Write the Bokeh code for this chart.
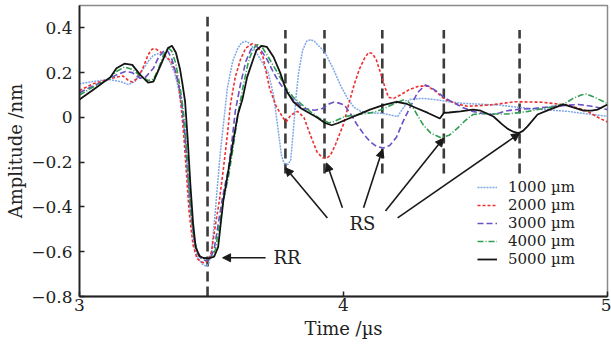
from bokeh.plotting import figure
from bokeh.models import (Range1d, FixedTicker, Legend, LegendItem, Arrow, NormalHead,
                          Label, ColumnDataSource)
from bokeh.embed import file_html
from bokeh.resources import INLINE

# ---------------- data ----------------
t_1000 = [3.00, 3.05, 3.11, 3.155, 3.185, 3.21, 3.235, 3.26, 3.28, 3.30, 3.32, 3.34, 3.36, 3.375,
          3.39, 3.40, 3.41, 3.42, 3.435, 3.45, 3.465, 3.48, 3.49, 3.50, 3.51, 3.52, 3.534, 3.548,
          3.56, 3.58, 3.60, 3.615, 3.631, 3.645, 3.67, 3.69, 3.715, 3.735, 3.753, 3.765, 3.775,
          3.79, 3.80, 3.81, 3.82, 3.83, 3.845, 3.86, 3.875, 3.89, 3.91, 3.93, 3.96, 3.99, 4.015,
          4.04, 4.065, 4.10, 4.148, 4.18, 4.205, 4.225, 4.25, 4.30, 4.345, 4.40, 4.45, 4.50,
          4.59, 4.70, 4.85, 4.95, 5.00]
a_1000 = [0.150, 0.160, 0.170, 0.160, 0.147, 0.160, 0.205, 0.250, 0.278, 0.285, 0.278, 0.255, 0.200,
          0.130, 0.020, -0.100, -0.260, -0.420, -0.570, -0.630, -0.655, -0.665, -0.650, -0.600,
          -0.480, -0.340, -0.150, 0.000, 0.130, 0.250, 0.310, 0.335, 0.340, 0.330, 0.290, 0.250,
          0.200, 0.100, -0.060, -0.170, -0.205, -0.210, -0.190, -0.060, 0.090, 0.200, 0.300,
          0.340, 0.347, 0.340, 0.315, 0.290, 0.220, 0.140, 0.085, 0.045, 0.027, 0.020, 0.018,
          0.010, 0.004, 0.040, 0.080, 0.085, 0.080, 0.070, 0.063, 0.060, 0.055, 0.040, 0.027,
          0.012, 0.005]

t_2000 = [3.00, 3.05, 3.11, 3.14, 3.165, 3.185, 3.20, 3.22, 3.24, 3.26, 3.275, 3.29, 3.31, 3.33,
          3.35, 3.365, 3.375, 3.385, 3.395, 3.405, 3.415, 3.43, 3.445, 3.46, 3.475, 3.49, 3.50,
          3.515, 3.53, 3.545, 3.56, 3.572, 3.59, 3.61, 3.63, 3.655, 3.675, 3.695, 3.72, 3.745,
          3.77, 3.783, 3.80, 3.826, 3.85, 3.875, 3.90, 3.92, 3.935, 3.95, 3.97, 4.00, 4.02, 4.04,
          4.06, 4.08, 4.095, 4.11, 4.125, 4.14, 4.15, 4.17, 4.19, 4.215, 4.25, 4.285, 4.32, 4.35,
          4.385, 4.43, 4.47, 4.55, 4.65, 4.75, 4.85, 4.92, 4.97, 5.00]
a_2000 = [0.120, 0.150, 0.170, 0.180, 0.185, 0.165, 0.158, 0.175, 0.220, 0.280, 0.305, 0.305,
          0.290, 0.270, 0.245, 0.200, 0.150, 0.050, -0.080, -0.250, -0.420, -0.570, -0.630,
          -0.645, -0.650, -0.635, -0.600, -0.480, -0.370, -0.230, -0.080, 0.060, 0.180, 0.260,
          0.310, 0.330, 0.320, 0.270, 0.130, 0.050, 0.000, -0.020, 0.010, 0.027, 0.000, -0.080,
          -0.155, -0.180, -0.182, -0.170, -0.120, -0.030, 0.060, 0.145, 0.215, 0.265, 0.290,
          0.285, 0.255, 0.200, 0.160, 0.090, 0.085, 0.100, 0.125, 0.140, 0.140, 0.115, 0.080,
          0.060, 0.050, 0.055, 0.070, 0.068, 0.055, 0.030, -0.004, -0.020]

t_3000 = [3.00, 3.05, 3.11, 3.14, 3.174, 3.20, 3.23, 3.25, 3.28, 3.30, 3.32, 3.335, 3.35, 3.365,
          3.38, 3.39, 3.40, 3.41, 3.42, 3.435, 3.45, 3.465, 3.48, 3.495, 3.51, 3.525, 3.54, 3.555,
          3.564, 3.58, 3.59, 3.61, 3.63, 3.65, 3.667, 3.685, 3.71, 3.735, 3.76, 3.783, 3.81, 3.85,
          3.89, 3.92, 3.945, 3.962, 3.98, 4.004, 4.03, 4.05, 4.08, 4.10, 4.125, 4.152, 4.175,
          4.20, 4.225, 4.25, 4.28, 4.31, 4.33, 4.355, 4.38, 4.41, 4.45, 4.49, 4.525, 4.56, 4.59,
          4.62, 4.67, 4.72, 4.80, 4.89, 4.94, 5.00]
a_3000 = [0.110, 0.140, 0.170, 0.190, 0.205, 0.200, 0.175, 0.180, 0.220, 0.270, 0.298, 0.295,
          0.260, 0.200, 0.120, 0.040, -0.080, -0.250, -0.400, -0.550, -0.615, -0.635, -0.640,
          -0.630, -0.590, -0.480, -0.370, -0.280, -0.230, -0.080, 0.027, 0.150, 0.250, 0.305,
          0.320, 0.305, 0.260, 0.200, 0.150, 0.115, 0.080, 0.040, 0.032, 0.040, 0.060, 0.068,
          0.065, 0.055, 0.010, -0.030, -0.080, -0.107, -0.130, -0.137, -0.125, -0.090, -0.020,
          0.040, 0.110, 0.145, 0.135, 0.115, 0.090, 0.070, 0.045, 0.027, 0.018, 0.013, 0.020,
          0.030, 0.037, 0.040, 0.050, 0.058, 0.050, 0.035]

t_4000 = [3.00, 3.05, 3.11, 3.14, 3.17, 3.20, 3.23, 3.26, 3.28, 3.30, 3.32, 3.337, 3.35, 3.365,
          3.38, 3.39, 3.40, 3.41, 3.42, 3.43, 3.445, 3.46, 3.48, 3.50, 3.515, 3.53, 3.545, 3.565,
          3.58, 3.60, 3.62, 3.64, 3.657, 3.674, 3.69, 3.715, 3.75, 3.783, 3.81, 3.84, 3.87, 3.91,
          3.945, 3.97, 4.004, 4.05, 4.09, 4.12, 4.155, 4.19, 4.23, 4.25, 4.265, 4.285, 4.30, 4.33,
          4.367, 4.40, 4.43, 4.46, 4.49, 4.53, 4.57, 4.62, 4.70, 4.78, 4.835, 4.87, 4.90, 4.92,
          4.96, 5.00]
a_4000 = [0.100, 0.135, 0.170, 0.205, 0.225, 0.215, 0.185, 0.165, 0.170, 0.220, 0.285, 0.310,
          0.295, 0.240, 0.140, 0.060, -0.040, -0.220, -0.380, -0.510, -0.600, -0.625, -0.635,
          -0.625, -0.590, -0.480, -0.370, -0.260, -0.150, 0.013, 0.140, 0.250, 0.305, 0.325,
          0.318, 0.270, 0.200, 0.130, 0.090, 0.060, 0.030, -0.005, -0.025, -0.015, 0.004, 0.012,
          0.018, 0.025, 0.040, 0.060, 0.080, 0.065, 0.040, 0.000, -0.030, -0.070, -0.090, -0.080,
          -0.050, -0.015, 0.013, 0.018, 0.015, 0.015, 0.027, 0.045, 0.060, 0.085, 0.100, 0.105,
          0.085, 0.062]

t_5000 = [3.00, 3.06, 3.117, 3.14, 3.17, 3.20, 3.23, 3.26, 3.28, 3.31, 3.335, 3.35, 3.365, 3.38,
          3.39, 3.40, 3.41, 3.42, 3.43, 3.44, 3.455, 3.47, 3.49, 3.51, 3.525, 3.545, 3.565, 3.583,
          3.60, 3.617, 3.635, 3.655, 3.67, 3.69, 3.71, 3.735, 3.76, 3.783, 3.81, 3.84, 3.87, 3.90,
          3.93, 3.955, 3.98, 4.02, 4.06, 4.10, 4.15, 4.20, 4.24, 4.28, 4.32, 4.365, 4.38, 4.40,
          4.443, 4.49, 4.52, 4.568, 4.60, 4.621, 4.645, 4.663, 4.68, 4.697, 4.735, 4.78, 4.833,
          4.87, 4.909, 4.94, 4.962, 5.00]
a_5000 = [0.080, 0.130, 0.180, 0.220, 0.240, 0.235, 0.190, 0.155, 0.160, 0.240, 0.310, 0.320,
          0.290, 0.220, 0.150, 0.070, -0.100, -0.300, -0.470, -0.580, -0.620, -0.628, -0.630,
          -0.622, -0.580, -0.370, -0.230, -0.100, 0.013, 0.080, 0.180, 0.250, 0.300, 0.320,
          0.315, 0.270, 0.200, 0.120, 0.070, 0.040, 0.020, 0.000, -0.025, -0.035, -0.025,
          -0.005, 0.015, 0.035, 0.055, 0.070, 0.060, 0.040, 0.020, -0.005, 0.020, 0.022, 0.027,
          0.035, 0.030, 0.004, -0.030, -0.050, -0.065, -0.070, -0.060, -0.040, 0.013, 0.035,
          0.058, 0.045, 0.030, 0.030, 0.035, 0.058]

series_labels = ["1000 µm", "2000 µm", "3000 µm", "4000 µm", "5000 µm"]
series_colors = ["#7fa7e6", "#ee2f2f", "#6b4fc6", "#2f9e52", "#141414"]
series_dashes = ["2 1", "3 2", "6 3", "6 2 1 2", "solid"]
series_widths = [1.5, 1.6, 1.6, 1.6, 1.8]

x_ticks = [3, 4, 5]
y_ticks = [-0.8, -0.6, -0.4, -0.2, 0, 0.2, 0.4]
y_tick_labels = ["−0.8", "−0.6", "−0.4", "−0.2", "0", "0.2", "0.4"]

# vertical reference lines (RR + RS positions)
marker_t = [3.485, 3.780, 3.928, 4.147, 4.380, 4.667]
marker_top = [0.45, 0.39, 0.39, 0.39, 0.39, 0.39]
marker_bottom = [-0.8, -0.25, -0.25, -0.25, -0.25, -0.25]

# annotation arrows
rr_tail = (3.705, -0.627)
rr_head = (3.542, -0.627)
rs_tail_x = [3.939, 3.996, 4.076, 4.159, 4.205]
rs_tail_y = [-0.449, -0.404, -0.404, -0.418, -0.449]
rs_head_x = [3.780, 3.936, 4.148, 4.379, 4.667]
rs_head_y = [-0.225, -0.204, -0.142, -0.093, -0.071]
rr_text_pos = (3.735, -0.627)
rs_text_pos = (4.072, -0.476)

FONT = "DejaVu Serif"

p = figure(width=611, height=346, output_backend="svg", toolbar_location=None,
           x_range=Range1d(3, 5), y_range=Range1d(-0.8, 0.5),
           min_border_left=79, min_border_right=4, min_border_top=5, min_border_bottom=50)
p.xgrid.visible = False
p.ygrid.visible = False
p.outline_line_color = "#8a8a8a"
p.outline_line_width = 1.5
p.background_fill_color = "white"

for ax in (p.xaxis[0], p.yaxis[0]):
    ax.axis_line_color = "#222222"
    ax.axis_line_width = 1.8
    ax.major_tick_in = 5
    ax.major_tick_out = 0
    ax.minor_tick_in = 0
    ax.minor_tick_out = 0
    ax.major_tick_line_color = "#222222"
    ax.major_tick_line_width = 1.5
    ax.major_label_text_font = FONT
    ax.major_label_text_font_size = "17px"
    ax.major_label_text_color = "#222222"
    ax.axis_label_text_font = FONT
    ax.axis_label_text_font_size = "18px"
    ax.axis_label_text_font_style = "normal"
    ax.axis_label_text_color = "#222222"

p.xaxis.ticker = FixedTicker(ticks=x_ticks)
p.yaxis.ticker = FixedTicker(ticks=y_ticks)
p.yaxis.major_label_overrides = {v: s for v, s in zip(y_ticks, y_tick_labels)}
p.xaxis.axis_label = "Time /µs"
p.yaxis.axis_label = "Amplitude /nm"
p.xaxis.major_label_standoff = 2
p.xaxis.axis_label_standoff = 4
p.yaxis.major_label_standoff = 7
p.yaxis.axis_label_standoff = 2

# vertical dashed markers
p.segment(x0=marker_t, y0=marker_bottom, x1=marker_t, y1=marker_top,
          line_color="#3c3c3c", line_width=2.6, line_dash="10 5")

ts = [t_1000, t_2000, t_3000, t_4000, t_5000]
as_ = [a_1000, a_2000, a_3000, a_4000, a_5000]
renderers = []
for t, a, c, d, w in zip(ts, as_, series_colors, series_dashes, series_widths):
    r = p.line(t, a, line_color=c, line_dash=d, line_width=w)
    renderers.append(r)

# one compact legend row per series (tight rows as in the original)
row_step = 18
row_h = 18
for i, (lab, r) in enumerate(zip(series_labels, renderers)):
    bottom_off = 28 + (len(series_labels) - 1 - i) * row_step
    lg = Legend(items=[LegendItem(label=lab, renderers=[r])],
                location=(398, bottom_off), padding=0, spacing=0, margin=0,
                label_height=row_h, glyph_height=row_h, glyph_width=20, label_standoff=11,
                label_text_font=FONT, label_text_font_size="15px", label_text_color="#222222",
                border_line_color=None, background_fill_alpha=0)
    p.add_layout(lg, "center")

# arrows
head_style = dict(size=8, fill_color="#1a1a1a", line_color="#1a1a1a")
p.add_layout(Arrow(end=NormalHead(**head_style),
                   x_start=rr_tail[0], y_start=rr_tail[1], x_end=rr_head[0], y_end=rr_head[1],
                   line_color="#1a1a1a", line_width=1.6))
arrow_src = ColumnDataSource(dict(x0=rs_tail_x, y0=rs_tail_y, x1=rs_head_x, y1=rs_head_y))
p.add_layout(Arrow(end=NormalHead(**head_style),
                   x_start="x0", y_start="y0", x_end="x1", y_end="y1", source=arrow_src,
                   line_color="#1a1a1a", line_width=1.6))

p.add_layout(Label(x=rr_text_pos[0], y=rr_text_pos[1], text="RR", text_font=FONT,
                   text_font_size="18px", text_baseline="middle", text_align="left",
                   text_color="#222222"))
p.add_layout(Label(x=rs_text_pos[0], y=rs_text_pos[1], text="RS", text_font=FONT,
                   text_font_size="18px", text_baseline="middle", text_align="center",
                   text_color="#222222"))

open("out.html", "w").write(file_html(p, INLINE))
